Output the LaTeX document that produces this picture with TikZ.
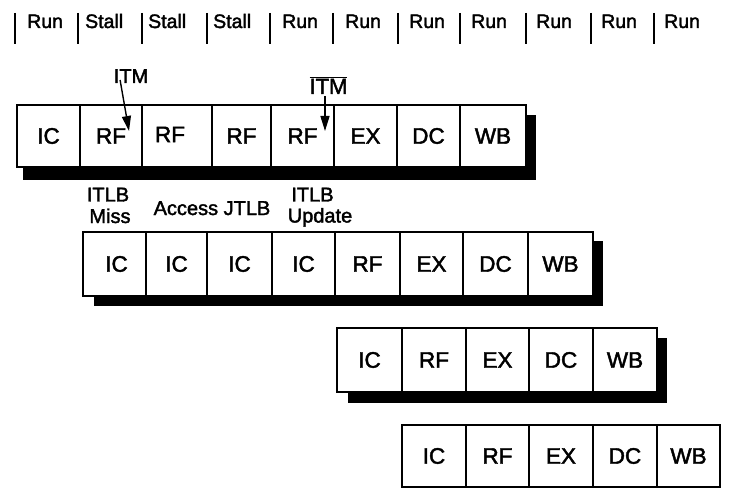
\documentclass[tikz,border=0pt]{standalone}
\usepackage{fontspec}
\setmainfont{Liberation Sans}[FakeBold=2]
\usetikzlibrary{arrows.meta}
\begin{document}
\begin{tikzpicture}[x=1pt,y=-1pt,
  cell/.style={draw, line width=1.3pt, fill=white, inner sep=0pt, outer sep=0pt,
    font=\fontsize{22.5}{24}\selectfont},
  hdr/.style={anchor=base west, inner sep=0pt, font=\fontsize{19.5}{22}\selectfont},
  note/.style={anchor=base, inner sep=0pt, font=\fontsize{20}{21}\selectfont},
  bar/.style={line width=1.8pt},
  arr/.style={line width=1.4pt, -{Triangle[length=15pt,width=9pt]}}
]
\useasboundingbox (0,0) rectangle (729,492);

% header
\foreach \bx/\dx/\txt [count=\i] in {15/12/Run,78/7/Stall,142/6/Stall,207/6/Stall,270/12/Run,333/12/Run,398/11/Run,460/11/Run,526/10/Run,591/10/Run,654/10/Run}{
  \draw[bar] (\bx,13) -- (\bx,44);
  \node[hdr] (h\i) at (\bx+\dx,28) {\txt};
}

% shadows
\fill[black] (23,115) rectangle (536,180);
\fill[black] (94,241) rectangle (603,306);
\fill[black] (348,338) rectangle (667,403);

% row 1
\node[cell, minimum width=63pt, minimum height=62pt] (r1a) at (48.5,136) {IC};
\node[cell, minimum width=62pt, minimum height=62pt] (r1b) at (111,136) {RF};
\node[cell, minimum width=70pt, minimum height=62pt] (r1c) at (177,136) {\raisebox{3pt}{RF\hspace{14pt}}};
\node[cell, minimum width=59pt, minimum height=62pt] (r1d) at (241.5,136) {RF};
\node[cell, minimum width=63pt, minimum height=62pt] (r1e) at (302.5,136) {RF};
\node[cell, minimum width=63pt, minimum height=62pt] (r1f) at (365.5,136) {EX};
\node[cell, minimum width=63pt, minimum height=62pt] (r1g) at (428.5,136) {DC};
\node[cell, minimum width=66pt, minimum height=62pt] (r1h) at (493,136) {WB};

% row 2
\node[cell, minimum width=63pt, minimum height=64pt] (r2a) at (114.5,264) {\hspace{4pt}IC};
\node[cell, minimum width=61pt, minimum height=64pt] (r2b) at (176.5,264) {IC\hspace{8pt}};
\node[cell, minimum width=65pt, minimum height=64pt] (r2c) at (239.5,264) {IC};
\node[cell, minimum width=63pt, minimum height=64pt] (r2d) at (303.5,264) {IC\hspace{6pt}};
\node[cell, minimum width=65pt, minimum height=64pt] (r2e) at (367.5,264) {RF};
\node[cell, minimum width=63pt, minimum height=64pt] (r2f) at (431.5,264) {EX};
\node[cell, minimum width=65pt, minimum height=64pt] (r2g) at (495.5,264) {DC};
\node[cell, minimum width=65pt, minimum height=64pt] (r2h) at (560.5,264) {WB};

% row 3
\node[cell, minimum width=65pt, minimum height=64pt] (r3a) at (369.5,360) {IC};
\node[cell, minimum width=64pt, minimum height=64pt] (r3b) at (434,360) {RF};
\node[cell, minimum width=63pt, minimum height=64pt] (r3c) at (497.5,360) {EX};
\node[cell, minimum width=64pt, minimum height=64pt] (r3d) at (561,360) {DC};
\node[cell, minimum width=64pt, minimum height=64pt] (r3e) at (625,360) {WB};

% row 4
\node[cell, minimum width=64pt, minimum height=62pt] (r4a) at (434,456) {IC};
\node[cell, minimum width=63pt, minimum height=62pt] (r4b) at (497.5,456) {RF};
\node[cell, minimum width=64pt, minimum height=62pt] (r4c) at (561,456) {EX};
\node[cell, minimum width=64pt, minimum height=62pt] (r4d) at (625,456) {DC};
\node[cell, minimum width=63pt, minimum height=62pt] (r4e) at (688.5,456) {WB};

% annotations
\node[note] (itlb1) at (108,201.5) {ITLB};
\node[note] (miss) at (110,223) {Miss};
\node[note] (acc) at (212,215) {Access JTLB};
\node[note] (itlb2) at (312.5,201.5) {ITLB};
\node[note] (upd) at (320,222.5) {Update};

% ITM arrows
\node[note] (itm) at (131,83) {ITM};
\coordinate (tipA) at (129,131);
\draw[arr] ([xshift=6.5pt,yshift=3pt]itm.base west) -- (tipA);

\node[note, font=\fontsize{22}{24}\selectfont] (itmb) at (328.5,94) {$\overline{\mbox{ITM}}$};
\coordinate (tipB) at (325,131);
\draw[arr] ([yshift=-2pt]itmb.base -| tipB) -- (tipB);
\end{tikzpicture}
\end{document}
